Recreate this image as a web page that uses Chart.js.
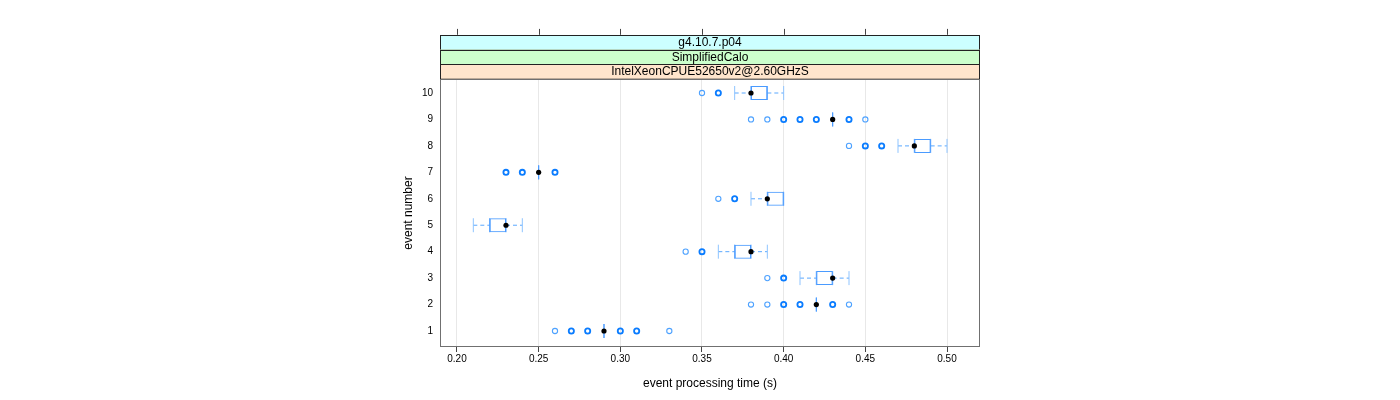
<!DOCTYPE html>
<html>
<head>
<meta charset="utf-8">
<script src="https://cdn.jsdelivr.net/npm/chart.js@4.4.1/dist/chart.umd.min.js"></script>
<style>
  html, body { margin: 0; padding: 0; background: #fff; }
  #wrap { width: 1400px; height: 400px; }
</style>
</head>
<body>
<div id="wrap"><canvas id="canvas" width="1400" height="400"></canvas></div>
<script>
// event numbers (y axis) and box statistics
const events       = [1, 2, 3, 4, 5, 6, 7, 8, 9, 10];
const lowerWhisker = [0.29, 0.42, 0.41, 0.36, 0.21, 0.38, 0.25, 0.47, 0.43, 0.37];
const lowerQuart   = [0.29, 0.42, 0.42, 0.37, 0.22, 0.39, 0.25, 0.48, 0.43, 0.38];
const medians      = [0.29, 0.42, 0.43, 0.38, 0.23, 0.39, 0.25, 0.48, 0.43, 0.38];
const upperQuart   = [0.29, 0.42, 0.43, 0.38, 0.23, 0.40, 0.25, 0.49, 0.43, 0.39];
const upperWhisker = [0.29, 0.42, 0.44, 0.39, 0.24, 0.40, 0.25, 0.50, 0.43, 0.40];

// outliers: event, time, how many runs landed on the same value
const outlierEvent = [1, 1, 1, 1, 1, 1,
                      2, 2, 2, 2, 2, 2,
                      3, 3,
                      4, 4,
                      6, 6,
                      7, 7, 7,
                      8, 8, 8,
                      9, 9, 9, 9, 9, 9, 9,
                      10, 10];
const outlierTime  = [0.26, 0.27, 0.28, 0.30, 0.31, 0.33,
                      0.38, 0.39, 0.40, 0.41, 0.43, 0.44,
                      0.39, 0.40,
                      0.34, 0.35,
                      0.36, 0.37,
                      0.23, 0.24, 0.26,
                      0.44, 0.45, 0.46,
                      0.38, 0.39, 0.40, 0.41, 0.42, 0.44, 0.45,
                      0.35, 0.36];
const outlierCount = [1, 2, 2, 2, 2, 1,
                      1, 1, 2, 2, 2, 1,
                      1, 2,
                      1, 2,
                      1, 2,
                      2, 2, 2,
                      1, 2, 2,
                      1, 1, 2, 2, 2, 2, 1,
                      1, 2];

const xTicks = [0.20, 0.25, 0.30, 0.35, 0.40, 0.45, 0.50];
const stripLabels = ['g4.10.7.p04', 'SimplifiedCalo', 'IntelXeonCPUE52650v2@2.60GHzS'];
const stripColors = ['#ccffff', '#ccffcc', '#ffe5cc'];

const boxBlue = '#4a9bff';
const whiskBlue = '#5aa8ff';

// build datasets from the arrays
const boxData = events.map((e, i) => ({ x: [lowerQuart[i], upperQuart[i]], y: e }));
const edgeData = [];
events.forEach((e, i) => {
  edgeData.push({ x: lowerQuart[i], y: e });
  edgeData.push({ x: upperQuart[i], y: e });
});
const whiskerData = [];
const capData = [];
events.forEach((e, i) => {
  if (lowerWhisker[i] < lowerQuart[i]) {
    whiskerData.push({ x: lowerWhisker[i], y: e }, { x: lowerQuart[i], y: e }, { x: lowerQuart[i], y: null });
    capData.push({ x: lowerWhisker[i], y: e });
  }
  if (upperWhisker[i] > upperQuart[i]) {
    whiskerData.push({ x: upperQuart[i], y: e }, { x: upperWhisker[i], y: e }, { x: upperWhisker[i], y: null });
    capData.push({ x: upperWhisker[i], y: e });
  }
});
const outlierData = outlierTime.map((t, i) => ({ x: t, y: outlierEvent[i], n: outlierCount[i] }));
const medianData = events.map((e, i) => ({ x: medians[i], y: e }));

// strips, panel frame and top tick marks, lattice style
const latticePlugin = {
  id: 'lattice',
  afterDraw(chart) {
    const { ctx, chartArea: a, scales: { x } } = chart;
    const stripH = 14.7;
    ctx.save();
    const stripTop = a.top - stripH * stripLabels.length;
    // top ticks
    ctx.strokeStyle = '#444';
    ctx.lineWidth = 1;
    x.ticks.forEach(t => {
      const px = Math.round(x.getPixelForValue(t.value)) + 0.5;
      ctx.beginPath();
      ctx.moveTo(px, stripTop - 6);
      ctx.lineTo(px, stripTop);
      ctx.stroke();
    });
    // strips
    stripLabels.forEach((lab, i) => {
      const y0 = stripTop + i * stripH;
      ctx.fillStyle = stripColors[i];
      ctx.fillRect(a.left, y0, a.right - a.left, stripH);
      ctx.strokeStyle = '#222';
      ctx.strokeRect(a.left + 0.5, Math.round(y0) + 0.5, a.right - a.left - 1, stripH);
      ctx.fillStyle = '#000';
      ctx.font = '12px "Liberation Sans", Arial, sans-serif';
      ctx.textAlign = 'center';
      ctx.textBaseline = 'middle';
      ctx.fillText(lab, (a.left + a.right) / 2, y0 + stripH / 2 + 0.5);
    });
    // panel frame
    ctx.strokeStyle = '#707070';
    ctx.strokeRect(a.left + 0.5, a.top + 0.5, a.right - a.left - 1, a.bottom - a.top - 1);
    ctx.restore();
  }
};

const font = { family: '"Liberation Sans", Arial, sans-serif', size: 10 };

new Chart(document.getElementById('canvas'), {
  type: 'scatter',
  data: {
    datasets: [
      {
        type: 'scatter', label: 'median', data: medianData, order: 0,
        pointStyle: 'circle', pointRadius: 2.6, pointBackgroundColor: '#000', pointBorderColor: '#000', pointBorderWidth: 0
      },
      {
        type: 'scatter', label: 'outliers', data: outlierData, order: 1,
        pointStyle: 'circle', pointRadius: 2.6, pointBackgroundColor: 'rgba(0,0,0,0)',
        pointBorderColor: ctx => (ctx.raw && ctx.raw.n > 1) ? '#0a7cff' : '#4ea2ff',
        pointBorderWidth: ctx => (ctx.raw && ctx.raw.n > 1) ? 1.8 : 1.1
      },
      {
        type: 'scatter', label: 'box edges', data: edgeData, order: 2,
        pointStyle: 'line', rotation: 90, pointRadius: 7, pointBorderColor: boxBlue, pointBorderWidth: 1
      },
      {
        type: 'bar', label: 'box', data: boxData, order: 3, indexAxis: 'y',
        barThickness: 14, backgroundColor: 'rgba(0,0,0,0)', borderColor: boxBlue, borderWidth: 1,
        borderSkipped: false, inflateAmount: 0
      },
      {
        type: 'scatter', label: 'caps', data: capData, order: 4,
        pointStyle: 'line', rotation: 90, pointRadius: 7, pointBorderColor: '#8fc4ff', pointBorderWidth: 1
      },
      {
        type: 'line', label: 'whiskers', data: whiskerData, order: 5,
        borderColor: whiskBlue, borderWidth: 1, borderDash: [4, 3], pointRadius: 0, spanGaps: false,
        showLine: true, fill: false
      }
    ]
  },
  options: {
    responsive: false,
    animation: false,
    events: [],
    layout: { padding: { left: 390, right: 420, top: 79, bottom: 0 } },
    plugins: { legend: { display: false }, tooltip: { enabled: false } },
    scales: {
      x: {
        type: 'linear',
        offset: false,
        min: 0.1896, max: 0.5202,
        afterBuildTicks: s => { s.ticks = xTicks.map(v => ({ value: v })); },
        afterFit: s => { s.height = 53; },
        ticks: { color: '#000', font, padding: 1, maxRotation: 0, callback: v => v.toFixed(2) },
        grid: { color: '#e8e8e8', tickColor: '#444', tickLength: 5, drawTicks: true, offset: false },
        border: { display: false },
        title: { display: true, text: 'event processing time (s)', color: '#000',
                 font: { family: font.family, size: 12 }, padding: { top: 0, bottom: 9 } }
      },
      y: {
        type: 'linear',
        offset: false,
        min: 0.395, max: 10.53,
        afterBuildTicks: s => { s.ticks = events.map(v => ({ value: v })); },
        afterFit: s => { s.width = 50; },
        ticks: { color: '#000', font, padding: 7 },
        grid: { display: false, drawTicks: false, offset: false },
        border: { display: false },
        title: { display: true, text: 'event number', color: '#000',
                 font: { family: font.family, size: 12 }, padding: { top: 11, bottom: 0 } }
      }
    }
  },
  plugins: [latticePlugin]
});
</script>
</body>
</html>
